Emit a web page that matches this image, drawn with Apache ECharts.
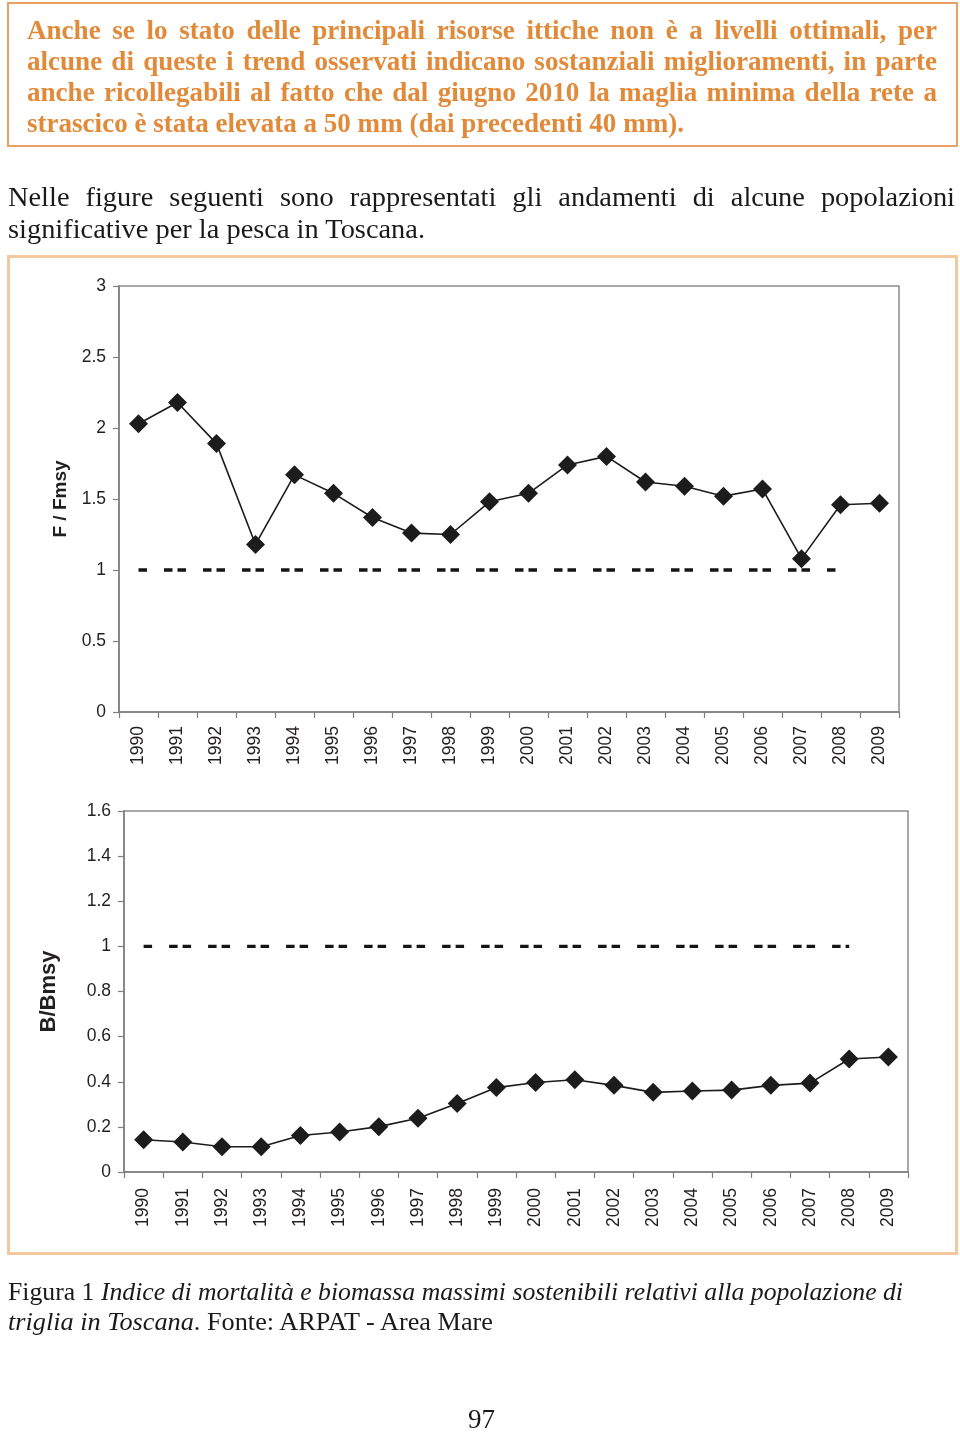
<!DOCTYPE html>
<html>
<head>
<meta charset="utf-8">
<script src="https://cdn.jsdelivr.net/npm/echarts@6/dist/echarts.min.js"></script>
<style>
  html, body { margin:0; padding:0; background:#fff; }
  body { width:960px; height:1434px; position:relative; overflow:hidden; }
  #chart { position:absolute; left:0; top:0; width:960px; height:1434px; z-index:1; }
  .box1 { position:absolute; left:7px; top:2px; width:947px; height:141px; border:2px solid #E9A062; z-index:2; }
  .box2 { position:absolute; left:7px; top:255px; width:945px; height:994px; border:3px solid #F3C89C; z-index:0; }
  .ln { position:absolute; white-space:nowrap; transform-origin:0 0; z-index:3; }
  .or { font-family:"Liberation Serif","DejaVu Serif",serif; font-weight:bold; font-size:28px; line-height:31px; color:#E08A3A; }
  .bk { font-family:"Liberation Serif","DejaVu Serif",serif; font-size:28px; line-height:32px; color:#1a1a1a; }
  .cp { font-family:"Liberation Serif","DejaVu Serif",serif; font-size:25.5px; line-height:30px; color:#1a1a1a; }
  .pg { font-family:"Liberation Serif","DejaVu Serif",serif; font-size:27px; line-height:32px; color:#1a1a1a; }
</style>
</head>
<body>
<div class="box1"></div>
<div class="box2"></div>

<div class="ln or" style="left:27px;top:14px" data-w="910" data-g="a" data-j="1">Anche se lo stato delle principali risorse ittiche non è a livelli ottimali, per</div>
<div class="ln or" style="left:27px;top:45px" data-w="910" data-g="a" data-j="1">alcune di queste i trend osservati indicano sostanziali miglioramenti, in parte</div>
<div class="ln or" style="left:27px;top:76px" data-w="910" data-g="a" data-j="1">anche ricollegabili al fatto che dal giugno 2010 la maglia minima della rete a</div>
<div class="ln or" style="left:27px;top:107px" data-w="657" data-g="a" data-r="1">strascico è stata elevata a 50 mm (dai precedenti 40 mm).</div>

<div class="ln bk" style="left:8px;top:181px" data-w="947" data-g="b" data-j="1">Nelle figure seguenti sono rappresentati gli andamenti di alcune popolazioni</div>
<div class="ln bk" style="left:8px;top:213px" data-w="417" data-g="b" data-r="1">significative per la pesca in Toscana.</div>

<div class="ln cp" style="left:8px;top:1277px" data-w="895" data-g="c1" data-r="1">Figura 1 <i>Indice di mortalità e biomassa massimi sostenibili relativi alla popolazione di</i></div>
<div class="ln cp" style="left:8px;top:1307px" data-w="485" data-g="c2" data-r="1"><i>triglia in Toscana</i>. Fonte: ARPAT - Area Mare</div>

<div class="ln pg" style="left:468px;top:1403px">97</div>

<div id="chart"></div>

<script>
// ---------------- DATA ----------------
const years = ['1990','1991','1992','1993','1994','1995','1996','1997','1998','1999',
               '2000','2001','2002','2003','2004','2005','2006','2007','2008','2009'];
const fRatio = [2.03, 2.18, 1.89, 1.18, 1.67, 1.54, 1.37, 1.26, 1.25, 1.48,
                1.54, 1.74, 1.80, 1.62, 1.59, 1.52, 1.57, 1.08, 1.46, 1.47];
const bRatio = [0.143, 0.133, 0.112, 0.112, 0.162, 0.177, 0.201, 0.238, 0.304, 0.374,
                0.397, 0.409, 0.384, 0.353, 0.359, 0.363, 0.384, 0.394, 0.501, 0.510];
const refLevel = [1, 1, 1, 1, 1, 1, 1, 1, 1, 1,
                  1, 1, 1, 1, 1, 1, 1, 1, 1, null];
const fTicks = [0, 0.5, 1, 1.5, 2, 2.5, 3];
const bTicks = [0, 0.2, 0.4, 0.6, 0.8, 1, 1.2, 1.4, 1.6];
const fName = 'F / Fmsy';
const bName = 'B/Bmsy';

// ---------------- TEXT FITTING ----------------
(function fitText() {
  const lines = Array.from(document.querySelectorAll('.ln[data-w]'));
  const groups = {};
  lines.forEach(el => {
    const g = el.dataset.g;
    (groups[g] = groups[g] || []).push(el);
  });
  Object.keys(groups).forEach(g => {
    const els = groups[g];
    const ref = els.find(e => e.dataset.r) || els[els.length - 1];
    const s = parseFloat(ref.dataset.w) / ref.getBoundingClientRect().width;
    els.forEach(el => {
      const target = parseFloat(el.dataset.w);
      const nat = el.getBoundingClientRect().width;
      if (el.dataset.j && nat * s <= target) {
        el.style.whiteSpace = 'normal';
        el.style.width = (target / s) + 'px';
        el.style.textAlign = 'justify';
        el.style.textAlignLast = 'justify';
        el.style.transform = 'scaleX(' + s + ')';
      } else {
        el.style.transform = 'scaleX(' + (target / nat) + ')';
      }
    });
  });
})();

// ---------------- CHART ----------------
const txt = '#231f20';
const axisGray = '#7f7f7f';
const labelFont = { fontFamily: '"Liberation Sans", Arial, sans-serif', fontSize: 17.5, color: txt };

function yAxisDef(idx, ticks, name, nameGap, nameSize) {
  return {
    type: 'value', gridIndex: idx,
    min: ticks[0], max: ticks[ticks.length - 1], interval: ticks[1] - ticks[0],
    name: name, nameLocation: 'middle', nameRotate: 90, nameGap: nameGap,
    nameTextStyle: { fontFamily: '"Liberation Sans", Arial, sans-serif', fontWeight: 'bold', fontSize: nameSize, color: txt },
    axisLine: { show: true, lineStyle: { color: axisGray, width: 1.5 } },
    axisTick: { show: true, inside: false, length: 6, lineStyle: { color: axisGray, width: 1.2 } },
    axisLabel: Object.assign({ margin: 13, formatter: v => String(v) }, labelFont),
    splitLine: { show: false }
  };
}
function xAxisDef(idx, margin) {
  return {
    type: 'category', gridIndex: idx, data: years, boundaryGap: true,
    axisLine: { show: true, lineStyle: { color: axisGray, width: 1.5 } },
    axisTick: { show: true, length: 6, interval: 0, alignWithLabel: false, lineStyle: { color: axisGray, width: 1.2 } },
    axisLabel: Object.assign({ rotate: 90, interval: 0, margin: margin }, labelFont),
    splitLine: { show: false }
  };
}
function refSeries(idx) {
  return {
    type: 'line', xAxisIndex: idx, yAxisIndex: idx, data: refLevel,
    symbol: 'none', silent: true, z: 2,
    lineStyle: { color: '#151515', width: 3.4, type: [8.5, 5, 8.5, 17], dashOffset: 13.5, cap: 'butt' }
  };
}
function dataSeries(idx, values) {
  return {
    type: 'line', xAxisIndex: idx, yAxisIndex: idx, data: values,
    symbol: 'diamond', symbolSize: 19, z: 3,
    itemStyle: { color: '#1c1c1c' },
    lineStyle: { color: '#1c1c1c', width: 1.6 }
  };
}

const chart = echarts.init(document.getElementById('chart'), null, { renderer: 'canvas' });
chart.setOption({
  animation: false,
  backgroundColor: 'transparent',
  grid: [
    { left: 119, top: 286, width: 780, height: 426, show: true, borderColor: '#8c8c8c', borderWidth: 1.5,
      backgroundColor: 'transparent', containLabel: false, outerBoundsMode: 'none' },
    { left: 124, top: 811, width: 784, height: 361, show: true, borderColor: '#8c8c8c', borderWidth: 1.5,
      backgroundColor: 'transparent', containLabel: false, outerBoundsMode: 'none' }
  ],
  xAxis: [ xAxisDef(0, 14), xAxisDef(1, 16) ],
  yAxis: [ yAxisDef(0, fTicks, fName, 49, 19), yAxisDef(1, bTicks, bName, 64, 22) ],
  series: [
    refSeries(0), dataSeries(0, fRatio),
    refSeries(1), dataSeries(1, bRatio)
  ]
});
</script>
</body>
</html>
